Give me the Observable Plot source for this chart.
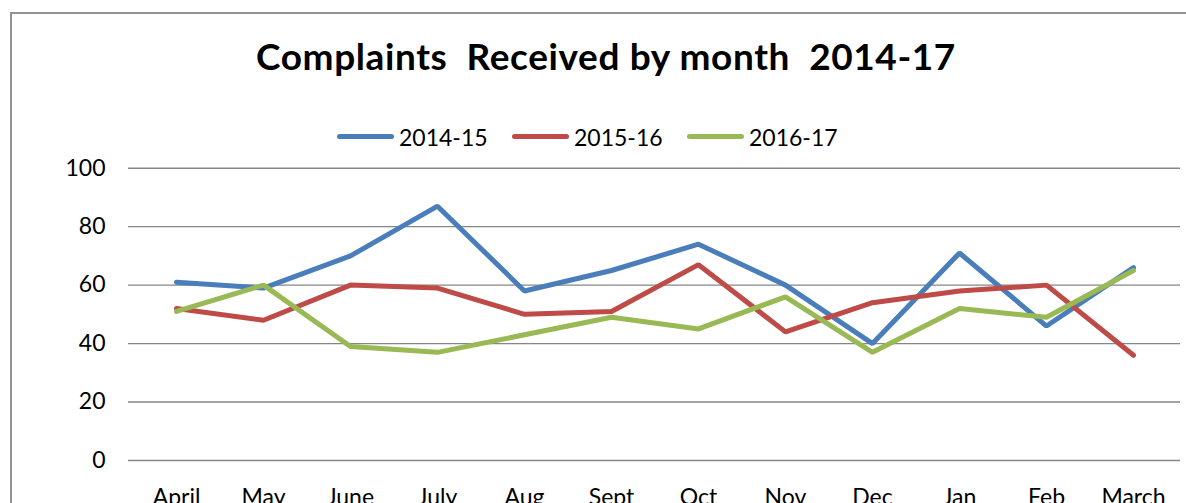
<!DOCTYPE html>
<html>
<head>
<meta charset="utf-8">
<script src="https://cdn.jsdelivr.net/npm/d3@7"></script>
<script src="https://cdn.jsdelivr.net/npm/@observablehq/plot@0.6"></script>
<style>
  html, body { margin: 0; padding: 0; width: 1186px; height: 503px; overflow: hidden; background: #fff; }
  body { position: relative; font-family: Lato, "Open Sans", sans-serif; color: #000; }
  #frame { position: absolute; left: 10px; top: 12px; width: 1300px; height: 600px;
           border-left: 2px solid #939393; border-top: 2px solid #939393; }
  #title { position: absolute; left: 0; width: 1212px; top: 36.5px; text-align: center;
           font-weight: bold; font-size: 37px; letter-spacing: 0.6px; white-space: pre; line-height: 1; }
  #legend { position: absolute; left: 337px; top: 126.3px; display: flex; align-items: center;
            font-size: 23px; line-height: 1; }
  .item { display: flex; align-items: center; width: 175px; }
  .swatch { width: 57px; height: 5px; border-radius: 3px; margin-right: 5px; position: relative; top: -1.8px; }
  #chart { position: absolute; left: 0; top: 150px; }
</style>
</head>
<body>
<div id="frame"></div>
<div id="title">Complaints  Received by month  2014-17</div>
<div id="legend"></div>
<div id="chart"></div>
<script>
const months = ["April", "May", "June", "July", "Aug", "Sept", "Oct", "Nov", "Dec", "Jan", "Feb", "March"];
const seriesNames = ["2014-15", "2015-16", "2016-17"];
const values1415 = [61, 59, 70, 87, 58, 65, 74, 60, 40, 71, 46, 66];
const values1516 = [52, 48, 60, 59, 50, 51, 67, 44, 54, 58, 60, 36];
const values1617 = [51, 60, 39, 37, 43, 49, 45, 56, 37, 52, 49, 65];
const yTicks = [0, 20, 40, 60, 80, 100];
const colors = ["#4A7EBB", "#BE4B48", "#98B954"];

const allSeries = [values1415, values1516, values1617];
const data = [];
allSeries.forEach((vals, s) => {
  vals.forEach((v, i) => data.push({ month: months[i], value: v, series: seriesNames[s] }));
});

// legend
const legend = document.getElementById("legend");
seriesNames.forEach((name, i) => {
  const item = document.createElement("div");
  item.className = "item";
  const sw = document.createElement("div");
  sw.className = "swatch";
  sw.style.background = colors[i];
  const label = document.createElement("span");
  label.textContent = name;
  item.appendChild(sw);
  item.appendChild(label);
  legend.appendChild(item);
});

const chart = Plot.plot({
  width: 1186,
  height: 370,
  marginLeft: 128,
  marginRight: 6,
  marginTop: 17.7,
  marginBottom: 60,
  style: { fontFamily: "Lato, 'Open Sans', sans-serif", fontSize: "23px", color: "#000", background: "transparent", overflow: "visible" },
  x: { type: "point", domain: months, padding: 0.5, label: null },
  y: { domain: [0, 100], label: null },
  color: { domain: seriesNames, range: colors },
  marks: [
    Plot.ruleY(yTicks, { stroke: "#868686", strokeWidth: 1.4, strokeOpacity: 1 }),
    Plot.axisY({ ticks: yTicks, tickSize: 0, tickPadding: 23, label: null, fontSize: 23 }),
    Plot.axisX({ tickSize: 0, tickPadding: 28, label: null, fontSize: 23 }),
    Plot.line(data, { x: "month", y: "value", z: "series", stroke: "series", strokeWidth: 5,
                      strokeLinecap: "round", strokeLinejoin: "miter" })
  ]
});
document.getElementById("chart").appendChild(chart);
</script>
</body>
</html>
